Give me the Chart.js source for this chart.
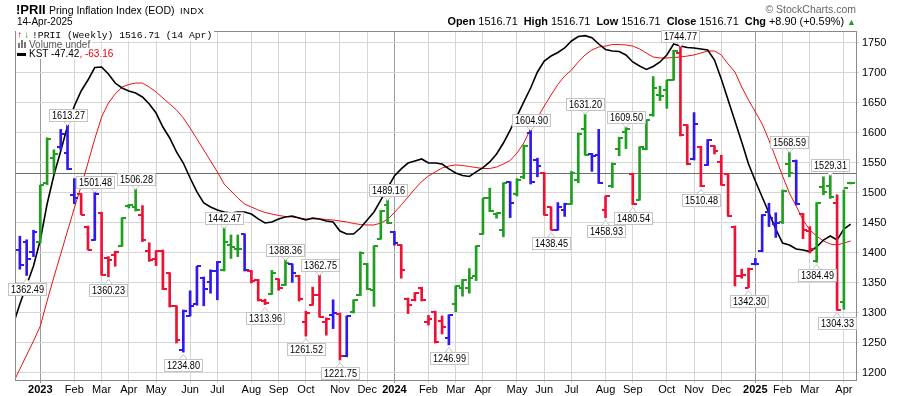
<!DOCTYPE html>
<html>
<head>
<meta charset="utf-8">
<script src="https://cdn.jsdelivr.net/npm/chart.js@4.4.1/dist/chart.umd.min.js"></script>
<style>
html,body{margin:0;padding:0;background:#fff;}
#wrap{position:relative;width:900px;height:396px;overflow:hidden;font-family:"Liberation Sans",Arial,sans-serif;color:#000;}
#c{position:absolute;left:0;top:0;}
.t{position:absolute;white-space:nowrap;line-height:1;}
.lg{background:#fff;padding-right:2px;}
.vb{display:inline-block;width:2px;background:#777;margin-right:1px;vertical-align:baseline;}
</style>
</head>
<body>
<div id="wrap">
<canvas id="c" width="900" height="396"></canvas>
<div class="t" style="left:16px;top:3px;font-size:13px;font-weight:bold;">!PRII</div>
<div class="t" style="left:49px;top:5px;font-size:10.5px;">Pring Inflation Index (EOD)</div>
<div class="t" style="left:180px;top:6px;font-size:9.5px;letter-spacing:0.4px;">INDX</div>
<div class="t" style="left:17px;top:17px;font-size:10px;">14-Apr-2025</div>
<div class="t" style="right:44px;top:4px;font-size:10.5px;color:#666;">© StockCharts.com</div>
<div class="t" style="right:44px;top:16px;font-size:10.9px;"><b>Open</b> 1516.71&nbsp; <b>High</b> 1516.71&nbsp; <b>Low</b> 1516.71&nbsp; <b>Close</b> 1516.71&nbsp; <b>Chg</b> +8.90 (+0.59%) <span style="color:#2a9a2a;font-size:9px;">▲</span></div>

<div class="t lg" style="left:16px;top:31px;font-size:9.7px;font-family:'Liberation Mono','DejaVu Sans Mono',monospace;"><span style="display:inline-block;width:7px;margin-left:1px;color:#e01;font-weight:bold;">↑</span><span style="display:inline-block;width:7px;margin-right:1px;color:#1a9a1a;font-weight:bold;">↓</span>!PRII (Weekly) 1516.71 (14 Apr)</div>
<div class="t lg" style="left:16px;top:40px;font-size:10px;color:#555;"><span style="display:inline-block;width:13px;padding-left:2px;box-sizing:border-box;"><span class="vb" style="height:5px"></span><span class="vb" style="height:8px"></span><span class="vb" style="height:6px"></span></span>Volume undef</div>
<div class="t lg" style="left:16px;top:49px;font-size:10px;"><span style="display:inline-block;width:9px;height:3px;background:#000;vertical-align:middle;margin:0 3px 0 1px;"></span>KST -47.42<span style="color:#e00;">, -63.16</span></div>
</div>

<script>
// ---------- DATA (weekly bars, index 0 = week of 12-Dec-2022) ----------
const opens = [1405,1418,1402,1418,1516,1559,1577,1567,1497,1498,
  1444,1422,1467,1392,1397,1412,1478,1476,1463,1404,
  1390,1404,1366,1311,1239,1295,1315,1358,1351,1370,
  1372,1413,1406,1431,1370,1355,1320,1332,1356,1347,
  1381,1362,1285,1314,1330,1285,1297,1299,1228,1301,
  1330,1382,1338,1424,1480,1435,1413,1324,1321,1342,
  1285,1302,1286,1258,1315,1341,1341,1361,1432,1491,
  1465,1438,1518,1499,1527,1600,1555,1534,1477,1439,
  1472,1482,1521,1606,1565,1563,1471,1512,1573,1602,
  1532,1489,1573,1630,1663,1671,1689,1733,1613,1556,
  1577,1547,1578,1552,1531,1444,1362,1342,1381,1403,
  1469,1449,1451,1548,1554,1465,1437,1386,1510,1512,
  1483,1319,1517];
const highs = [1428,1422,1438,1513,1592,1572,1606,1613.27,1524,1499,
  1445,1501.48,1468,1394,1403,1459,1481,1506.28,1479,1417,
  1404,1405,1367,1312,1305,1337,1378,1360,1372,1386,
  1442.47,1430,1430,1432,1371,1356,1323,1371,1357,1388.36,
  1382,1363,1303,1343,1362.75,1292,1322,1300,1295,1322,
  1402,1383,1412,1471,1489.16,1436,1414,1325,1334,1343,
  1296,1303,1295,1297,1345,1356,1374,1412,1491,1508,
  1467,1517,1519,1524,1580,1604.90,1558,1534,1477,1484,
  1483,1536,1600,1631.20,1566,1606,1495,1550,1593,1609.50,
  1533,1577,1622,1694,1678,1688,1738,1744.77,1614,1634,
  1578,1589,1579,1563,1532,1445,1373,1375,1391,1464,
  1483,1467,1505,1568.59,1555,1466,1444,1484,1527,1529.31,
  1497,1505,1518];
const lows = [1373,1362.49,1394,1417,1514,1533,1572,1539,1482,1464,
  1405,1421,1363,1360.23,1378,1411,1475,1470,1419,1386,
  1379,1339,1310,1250,1234.80,1295,1313,1312,1333,1322,
  1370,1391,1394,1370,1350,1320,1313.96,1331,1338,1346,
  1351,1320,1261.52,1313,1293,1263,1274,1221.75,1227,1300,
  1329,1339,1311,1423,1449,1413,1358,1299,1320,1320,
  1280,1250,1265,1246.99,1302,1328,1333,1354,1431,1469,
  1458,1427,1459,1495,1524,1515,1527,1463,1438.45,1438,
  1461,1481,1517,1563,1536,1516,1458.93,1509,1562,1574,
  1480.54,1488,1572,1628,1654,1641,1688,1595,1547,1555,
  1510.48,1546,1565,1513,1461,1345,1358,1342.30,1380,1402,
  1444,1426,1449,1527,1480,1424,1400,1384.49,1497,1491,
  1304.33,1306,1515];
const closes = [1380,1390,1435,1513,1590,1565,1598,1540,1491,1464,
  1405,1499,1364,1389,1402,1459,1480,1471,1421,1389,
  1403,1340,1312,1255,1304,1311,1378,1340,1370,1385,
  1418,1410,1406,1372,1354,1321,1316,1366,1342,1383,
  1366,1323,1300,1330,1294,1290,1300,1228,1295,1321,
  1400,1340,1411,1470,1450,1416,1372,1313,1333,1321,
  1290,1252,1276,1296,1345,1355,1359,1411,1491,1470,
  1466,1517,1484,1522,1578,1519,1545,1464,1439,1477,
  1482,1534,1599,1564,1562,1517,1495,1549,1592,1606,
  1481,1577,1621,1675,1662,1688,1737,1596,1549,1615,
  1511,1588,1570,1514,1462,1362,1364,1373,1381,1463,
  1458,1450,1504,1534,1481,1439,1406,1484,1501,1494,
  1305,1507.81,1516.71];
const barColorKeys = ('bbbgggbbbr'+'rbrrrgggrr'+'rrrrbbbbbb'+'gggbrrrgrg'+'brrrrrbrbg'+
  'gggggbrrrr'+'rrrbgggggg'+'ggbggbbrrb'+'bgggbbrggg'+'rggggggrrb'+'rbrrrrrrbb'+'bbggbrrggg'+'rgg').split('');

// KST and its signal line, starting one week before the first bar
const kstFirstIdx = -1;
const kst = [-141.3,-121.8,-104.1,-86.5,-62.3,-28.8,-1.8,20.5,43.7,62.3,76.3,
  86.5,98.1,98.6,92.1,83.7,79.1,76.3,74.4,70.7,64.2,
  55.8,42.8,32.6,19.6,9.3,-4.6,-17.6,-27.9,-31.6,-34.4,
  -36.2,-37.2,-36.2,-36.2,-38.1,-42.7,-46.5,-45.5,-42.7,-40.9,
  -40.0,-41.8,-43.7,-41.8,-42.7,-44.6,-45.5,-53.9,-56.7,-56.7,
  -51.1,-43.7,-36.2,-25.1,-13.9,-2.8,3.8,9.3,11.2,13.1,
  9.3,9.3,8.4,3.8,0.0,-2.3,-3.2,1.0,5.1,10.3,
  17.7,27.9,40.0,53.0,66.1,79.1,94.0,104.2,108.8,112.1,
  116.3,122.8,127.0,127.8,125.9,120.0,114.9,113.5,113.0,109.8,
  103.3,99.5,96.3,99.1,103.3,109.8,120.0,118.1,116.8,116.3,
  115.4,114.4,105.1,87.5,67.9,48.4,28.9,8.4,-7.4,-22.3,
  -37.2,-52.1,-65.1,-66.9,-70.7,-71.6,-73.0,-68.8,-62.3,-58.6,
  -62.3,-52.1,-47.42];
const kstSignal = [-195.3,-182.3,-169.2,-156.2,-142.3,-119.0,-96.7,-75.3,-53.9,-32.5,-12.1,
  9.3,31.7,52.1,65.1,73.5,80.0,82.3,83.7,83.7,80.0,
  75.4,69.8,64.2,58.6,51.2,41.9,31.7,21.4,11.2,1.0,
  -10.2,-16.7,-23.2,-28.8,-31.6,-34.4,-36.7,-38.1,-39.5,-40.4,
  -40.9,-41.8,-42.7,-42.7,-42.7,-43.2,-43.7,-44.6,-45.5,-46.9,
  -47.9,-48.3,-48.3,-46.5,-43.2,-36.7,-29.7,-22.3,-14.8,-7.9,
  -2.8,1.0,4.7,6.5,7.5,7.0,6.1,5.1,4.2,4.2,
  5.6,8.4,11.7,18.6,27.9,41.0,51.2,62.3,72.6,82.3,
  90.2,95.8,103.3,109.8,114.4,117.2,118.1,119.5,119.5,119.1,
  118.1,115.4,111.6,107.9,107.0,107.0,107.4,107.9,108.8,109.8,
  111.6,113.5,113.5,109.8,101.4,94.0,80.0,67.9,56.8,45.6,
  30.7,14.0,-2.8,-18.6,-30.7,-43.7,-53.0,-58.6,-63.2,-66.0,
  -66.9,-65.1,-63.16];

const refLevel = 1533;
const yTicks = [1200,1225,1250,1275,1300,1325,1350,1375,1400,1425,1450,1475,1500,1525,1550,1575,1600,1625,1650,1675,1700,1725,1750];
const monthIdx = [3,8,12,16,20,25,29,34,38,42,47,51,55,60,64,68,73,77,81,86,90,95,99,103,108,112,116,121];
const monthLbl = ['2023','Feb','Mar','Apr','May','Jun','Jul','Aug','Sep','Oct','Nov','Dec',
  '2024','Feb','Mar','Apr','May','Jun','Jul','Aug','Sep','Oct','Nov','Dec','2025','Feb','Mar','Apr'];
const annIdx = [1,7,11,13,17,24,30,36,39,42,44,47,54,63,75,78,83,86,89,90,97,100,107,113,117,119,120];
const annPos = ['L','H','H','L','H','L','H','L','H','L','H','L','H','L','H','L','H','L','H','L','H','L','L','H','L','H','L'];

// ---------- RENDERING ----------
const palette = {g:'#1f9f1f', r:'#ee1133', b:'#3018f0'};
function tickImage(color, side){
  const c = document.createElement('canvas'); c.width = 8; c.height = 2;
  const g = c.getContext('2d'); g.fillStyle = color;
  if (side === 'L') g.fillRect(0,0,4,2); else g.fillRect(4,0,4,2);
  return c;
}
const tickImgs = {};
for (const k in palette) tickImgs[k] = {L: tickImage(palette[k],'L'), R: tickImage(palette[k],'R')};

const idx = opens.map((_, i) => i);
const rangeData = idx.map(i => ({x:i, y:[lows[i], highs[i]]}));
const openData = idx.map(i => ({x:i, y:opens[i]}));
const closeData = idx.map(i => ({x:i, y:closes[i]}));
const kstData = kst.map((v,j) => ({x:kstFirstIdx + j, y:v}));
const sigData = kstSignal.map((v,j) => ({x:kstFirstIdx + j, y:v}));
const yearIdx = monthIdx.filter((v,j) => /^\d{4}$/.test(monthLbl[j]));
const FONT = '"Liberation Sans", Arial, sans-serif';

const framePlugin = {
  id:'frame',
  beforeDatasetsDraw(chart){
    const {ctx, chartArea:a, scales} = chart;
    ctx.save();
    const yy = Math.round(scales.y.getPixelForValue(refLevel)) + 0.5;
    ctx.strokeStyle = '#6e6e6e'; ctx.lineWidth = 1;
    ctx.beginPath(); ctx.moveTo(a.left, yy); ctx.lineTo(a.right, yy); ctx.stroke();
    ctx.strokeStyle = '#8a8a8a';
    ctx.strokeRect(a.left - 0.5, a.top - 0.5, a.right - a.left + 1, a.bottom - a.top + 1);
    ctx.restore();
  }
};
const SQ = 0.83; // horizontal squeeze of the label font (narrow face)
const labelPlugin = {
  id:'hlLabels',
  afterDatasetsDraw(chart){
    const {ctx, scales:{x, y}} = chart;
    ctx.save();
    ctx.font = '11px "Liberation Sans", Arial, sans-serif';
    ctx.textAlign = 'center'; ctx.textBaseline = 'middle';
    annIdx.forEach((i, k) => {
      const hi = annPos[k] === 'H';
      const val = hi ? highs[i] : lows[i];
      const txt = val.toFixed(2);
      const px = x.getPixelForValue(i), py = y.getPixelForValue(val);
      const w = Math.round(ctx.measureText(txt).width * SQ) + 5, h = 12;
      const bx = Math.round(px - w/2) + 0.5;
      const by = hi ? Math.round(py - 4 - h) + 0.5 : Math.round(py + 7) + 0.5;
      ctx.fillStyle = '#fff'; ctx.strokeStyle = '#c4c4c4'; ctx.lineWidth = 1;
      ctx.beginPath();
      if (hi) { ctx.moveTo(px-4, by+h); ctx.lineTo(px, by+h+4); ctx.lineTo(px+4, by+h); }
      else { ctx.moveTo(px-4, by); ctx.lineTo(px, by-5); ctx.lineTo(px+4, by); }
      ctx.closePath(); ctx.fill(); ctx.stroke();
      ctx.fillRect(bx, by, w, h); ctx.strokeRect(bx, by, w, h);
      ctx.save();
      ctx.translate(bx + w/2, by + h/2 + 0.5);
      ctx.scale(SQ, 1);
      ctx.fillStyle = '#000'; ctx.fillText(txt, 0, 0);
      ctx.restore();
    });
    ctx.restore();
  }
};

new Chart(document.getElementById('c'), {
  type:'line',
  data:{datasets:[
    {type:'bar', data:rangeData, backgroundColor:idx.map(i => palette[barColorKeys[i]]), barThickness:2, borderWidth:0, order:1, yAxisID:'y'},
    {type:'line', data:openData, showLine:false, pointRadius:2, pointStyle:c => tickImgs[barColorKeys[c.dataIndex]].L, order:0, yAxisID:'y'},
    {type:'line', data:closeData, showLine:false, pointRadius:2, pointStyle:c => tickImgs[barColorKeys[c.dataIndex]].R, order:0, yAxisID:'y'},
    {type:'line', data:sigData, borderColor:'#ee1111', borderWidth:1, pointRadius:0, tension:0, yAxisID:'k', order:3},
    {type:'line', data:kstData, borderColor:'#000', borderWidth:1.6, pointRadius:0, tension:0, yAxisID:'k', order:2}
  ]},
  options:{
    responsive:false, animation:false, devicePixelRatio:1, events:[],
    layout:{padding:{left:16, top:32, right:0, bottom:0}},
    plugins:{legend:{display:false}, tooltip:{enabled:false}},
    scales:{
      x:{type:'linear', position:'bottom', min:-0.568, max:122.78, offset:false,
        afterBuildTicks:s => { s.ticks = monthIdx.map(v => ({value:v})); },
        ticks:{autoSkip:false, maxRotation:0, padding:0, color:'#000',
          callback:v => monthLbl[monthIdx.indexOf(v)],
          font:c => ({family:FONT, size:11, weight:(c.tick && yearIdx.includes(c.tick.value)) ? 'bold' : 'normal'})},
        grid:{color:c => (c.tick && yearIdx.includes(c.tick.value)) ? '#9a9a9a' : '#d6d6d6', tickLength:3, offset:false},
        border:{display:true, color:'#8a8a8a'},
        afterFit:s => { s.height = 16; }
      },
      y:{type:'linear', position:'right', min:1188.33, max:1768.33,
        afterBuildTicks:s => { s.ticks = yTicks.map(v => ({value:v})); },
        ticks:{color:'#000', padding:3, font:{family:FONT, size:11}, callback:v => String(v)},
        grid:{color:'#d6d6d6', tickLength:3},
        border:{display:true, color:'#8a8a8a'},
        afterFit:s => { s.width = 44; }
      },
      k:{type:'linear', display:false, min:-192.48, max:131.16}
    }
  },
  plugins:[framePlugin, labelPlugin]
});
</script>
</body>
</html>
